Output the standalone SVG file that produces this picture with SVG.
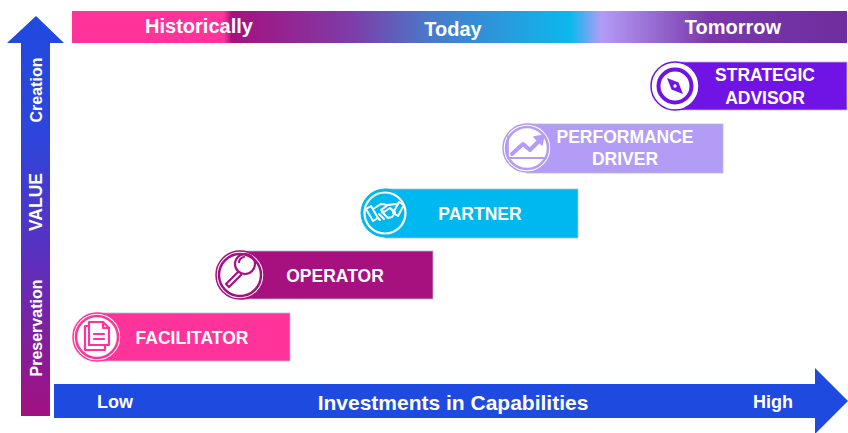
<svg xmlns="http://www.w3.org/2000/svg" width="848" height="433" viewBox="0 0 848 433">
<defs>
<linearGradient id="band" gradientUnits="userSpaceOnUse" x1="72" y1="0" x2="847" y2="0">
<stop offset="0" stop-color="#FF3399"/>
<stop offset="0.196" stop-color="#FF3399"/>
<stop offset="0.206" stop-color="#A6107F"/>
<stop offset="0.36" stop-color="#7E3CA8"/>
<stop offset="0.46" stop-color="#4A78C8"/>
<stop offset="0.643" stop-color="#0BB8EE"/>
<stop offset="0.683" stop-color="#B39CF7"/>
<stop offset="0.823" stop-color="#7A38AA"/>
<stop offset="1" stop-color="#6E2E9E"/>
</linearGradient>
<linearGradient id="vgrad" gradientUnits="userSpaceOnUse" x1="0" y1="16" x2="0" y2="416">
<stop offset="0" stop-color="#1F4AE0"/>
<stop offset="0.3" stop-color="#2E45DA"/>
<stop offset="0.6" stop-color="#5A30C0"/>
<stop offset="1" stop-color="#A3107F"/>
</linearGradient>
<style>
text{font-family:"Liberation Sans",Arial,sans-serif;font-weight:bold;fill:#fff}
.hdr{font-size:20px;text-anchor:middle}
.ax{font-size:18px;text-anchor:middle}
.lbl{font-size:17.5px;text-anchor:middle}
.vt{font-size:16px;text-anchor:middle}
.box{stroke:#b8b8cc;stroke-width:0.8}
.ico{fill:none;stroke-linecap:round;stroke-linejoin:round}
</style>
</defs>

<g id="header">
<rect x="72" y="11" width="775" height="32" fill="url(#band)"/>
<text class="hdr" x="199" y="33">Historically</text>
<text class="hdr" x="453" y="36">Today</text>
<text class="hdr" x="733" y="34">Tomorrow</text>
</g>

<g id="axes">
<polygon id="value-axis" points="36,16 64,43 50,43 50,416 21,416 21,43 7,43" fill="url(#vgrad)"/>
<text class="vt" transform="translate(42,90) rotate(-90)">Creation</text>
<text class="vt" transform="translate(42,202) rotate(-90)" style="font-size:17.5px">VALUE</text>
<text class="vt" transform="translate(42,328) rotate(-90)">Preservation</text>
<polygon id="investment-axis" points="54,384 815,384 815,368 848,401 815,434 815,418 54,418" fill="#1F4AE0"/>
<text class="ax" x="115" y="408">Low</text>
<text class="ax" x="453" y="410" style="font-size:21px">Investments in Capabilities</text>
<text class="ax" x="773" y="408">High</text>
</g>

<g id="connectors"></g>

<g id="facilitator">
<rect class="box" x="97" y="313" width="193" height="48" fill="#FF3399"/>
<circle cx="97" cy="337" r="24" fill="#fff" stroke="#FF3399" stroke-width="1.5"/>
<circle cx="97" cy="337" r="21" fill="#fff" stroke="#FF3399" stroke-width="2.5"/>
<g class="ico" stroke="#FF3399" stroke-width="2.2">
<path d="M89,322 H103 L109,328 V345 H89 Z"/>
<path d="M103,322 V328 H109"/>
<path d="M89,326 H85 V350 H105 V345"/>
<path d="M94,334 H104 M94,339 H104"/>
</g>
<text class="lbl" x="192" y="344">FACILITATOR</text>
</g>

<g id="operator">
<rect class="box" x="240" y="251" width="193" height="48" fill="#A6107F"/>
<circle cx="240" cy="275" r="24" fill="#fff" stroke="#A6107F" stroke-width="1.5"/>
<circle cx="240" cy="275" r="21" fill="#fff" stroke="#A6107F" stroke-width="2.5"/>
<g class="ico" stroke="#A6107F" stroke-width="2.2">
<circle cx="245" cy="264" r="10"/>
<path d="M239,262 A6,6 0 0 1 244,257"/>
<path d="M238,272 L226,284 L229,287 L241,275"/>
</g>
<text class="lbl" x="335" y="282">OPERATOR</text>
</g>

<g id="partner">
<rect class="box" x="385" y="189" width="193" height="49" fill="#00B8F0"/>
<circle cx="385" cy="213" r="24" fill="#00B8F0" stroke="#00B8F0" stroke-width="1"/>
<circle cx="385" cy="213" r="20.5" fill="none" stroke="#fff" stroke-width="2.2"/>
<g class="ico" stroke="#fff" stroke-width="2">
<path d="M366,209 L371,206 L378,218 L373,221 Z"/>
<path d="M404,205 L399,202 L393,213 L398,216 Z"/>
<path d="M373,209 L381,204 L388,205 L396,204"/>
<path d="M388,205 L381,210 L384,212 L390,208 L395,212"/>
<path d="M377,217 L380,220 M379,214 L384,219 M382,212 L388,218 M390,208 L395,213 L392,217 L388,218"/>
</g>
<text class="lbl" x="480" y="220">PARTNER</text>
</g>

<g id="performance-driver">
<rect class="box" x="527" y="124" width="196" height="49" fill="#B39CF5"/>
<circle cx="527" cy="148" r="24" fill="#fff" stroke="#B39CF5" stroke-width="1.5"/>
<circle cx="527" cy="148" r="21" fill="#fff" stroke="#B39CF5" stroke-width="2.5"/>
<g class="ico" stroke="#B39CF5">
<path d="M508,136 V158 H546" stroke-width="1.8"/>
<path d="M512,154 L523,144 L530,150 L539,141" stroke-width="4"/>
<path d="M534,137 L544,135 L542,145 Z" fill="#B39CF5" stroke-width="1.5"/>
</g>
<text class="lbl" x="625" y="143">PERFORMANCE</text>
<text class="lbl" x="625" y="165">DRIVER</text>
</g>

<g id="strategic-advisor">
<rect class="box" x="675" y="62" width="172" height="48" fill="#7014E6"/>
<circle cx="675" cy="86" r="24" fill="#fff" stroke="#7014E6" stroke-width="1.5"/>
<circle cx="675" cy="86" r="16.5" fill="#fff" stroke="#7014E6" stroke-width="4"/>
<polygon points="667,78 678.5,82.5 683,94 671.5,89.5" fill="#7014E6"/>
<circle cx="675" cy="86" r="1.7" fill="#fff"/>
<text class="lbl" x="765" y="81">STRATEGIC</text>
<text class="lbl" x="765" y="104">ADVISOR</text>
</g>
</svg>
